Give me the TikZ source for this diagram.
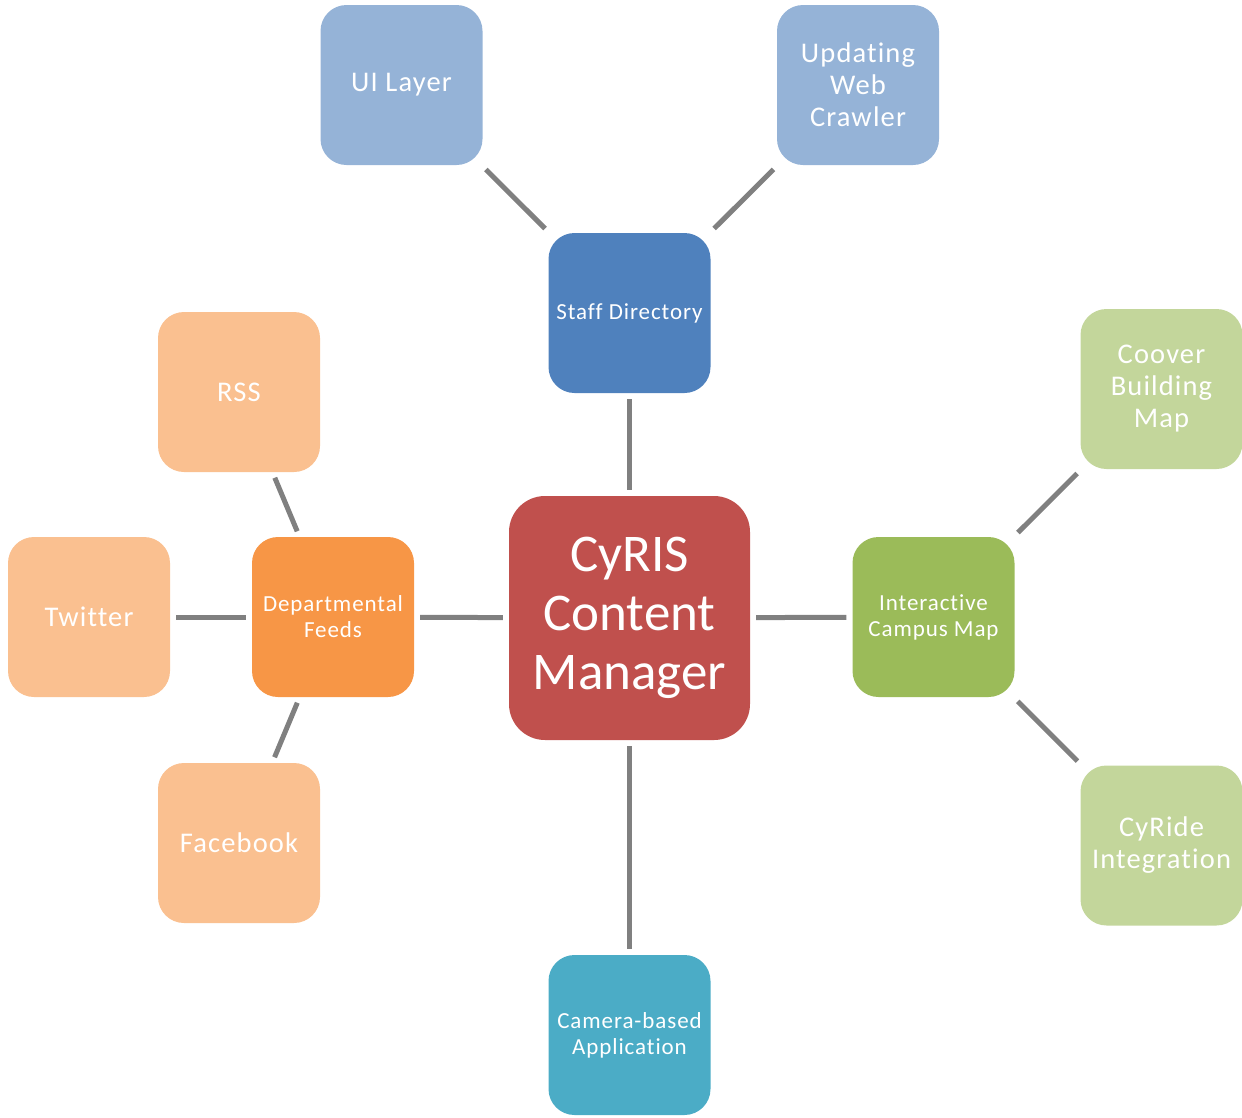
\documentclass[tikz,border=0pt]{standalone}
\usepackage{fontspec}
\setmainfont{Carlito}
\newfontfamily\spacedfont[LetterSpace=4,Ligatures=NoCommon]{Carlito}
\begin{document}
\begin{tikzpicture}[x=1pt,y=-1pt,
  box/.style={rounded corners=26pt,inner sep=0pt,minimum width=162pt,minimum height=160pt,
    text=white,align=center},
  bigtext/.style={font=\fontsize{28.5}{32}\selectfont\spacedfont},
  smalltext/.style={font=\fontsize{23}{26}\selectfont\spacedfont},
  link/.style={draw=black!50,line width=5pt,shorten <=6pt,shorten >=6pt}]
\definecolor{cred}{HTML}{C0504D}
\definecolor{cblue}{HTML}{4F81BD}
\definecolor{clblue}{HTML}{95B3D7}
\definecolor{corange}{HTML}{F79646}
\definecolor{clorange}{HTML}{FAC090}
\definecolor{cgreen}{HTML}{9BBB59}
\definecolor{clgreen}{HTML}{C3D69B}
\definecolor{cteal}{HTML}{4BACC6}
\useasboundingbox (0,0) rectangle (1242,1117);

% hub
\node[box,fill=cred,rounded corners=36pt,minimum width=241pt,minimum height=244pt,
  font=\fontsize{53}{59}\selectfont] (core) at (629.5,618) {CyRIS\\Content\\Manager};

% first ring
\node[box,fill=cblue,smalltext] (staff) at (629.5,313) {Staff Directory};
\node[box,fill=corange,smalltext] (feeds) at (333,617) {Departmental\\Feeds};
\node[box,fill=cgreen,smalltext] (map) at (933.5,617) {Interactive\\Campus Map};
\node[box,fill=cteal,smalltext] (camera) at (629.5,1035) {Camera-based\\Application};

% outer ring
\node[box,fill=clblue,bigtext] (ui) at (401.5,85) {UI Layer};
\node[box,fill=clblue,bigtext] (crawler) at (858,85) {Updating\\Web\\Crawler};
\node[box,fill=clorange,bigtext] (rss) at (239,392) {RSS};
\node[box,fill=clorange,bigtext] (twitter) at (89,617) {Twitter};
\node[box,fill=clorange,bigtext] (facebook) at (239,843) {Facebook};
\node[box,fill=clgreen,bigtext] (coover) at (1161.5,389) {Coover\\Building\\Map};
\node[box,fill=clgreen,bigtext] (cyride) at (1161.5,845.5) {CyRide\\Integration};

% connectors
\draw[link] (core) -- (staff);
\draw[link] (core) -- (feeds);
\draw[link] (core) -- (map);
\draw[link] (core) -- (camera);
\draw[link] (staff) -- (ui);
\draw[link] (staff) -- (crawler);
\draw[link] (feeds) -- (rss);
\draw[link] (feeds) -- (twitter);
\draw[link] (feeds) -- (facebook);
\draw[link] (map) -- (coover);
\draw[link] (map) -- (cyride);
\end{tikzpicture}
\end{document}
